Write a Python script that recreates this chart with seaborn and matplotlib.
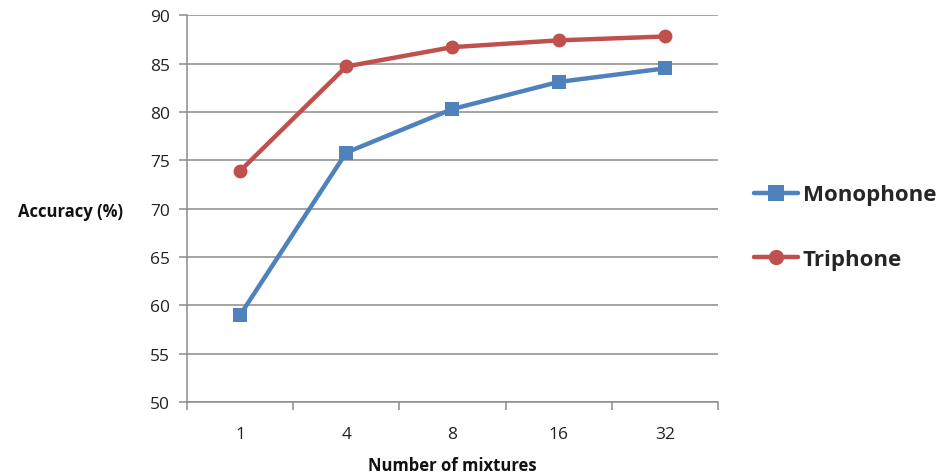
import matplotlib
matplotlib.use("Agg")
import matplotlib.pyplot as plt
import seaborn as sns
import pandas as pd
from matplotlib.ticker import FixedLocator
from matplotlib.lines import Line2D

mixtures = ["1", "4", "8", "16", "32"]
monophone = [59.0, 75.8, 80.3, 83.1, 84.5]
triphone = [73.9, 84.7, 86.7, 87.4, 87.8]
series_names = ["Monophone", "Triphone"]
y_ticks = [50, 55, 60, 65, 70, 75, 80, 85, 90]

sns.set_theme(style="white")
plt.rcParams["font.family"] = ["Open Sans", "DejaVu Sans"]

pos = list(range(len(mixtures)))
df = pd.DataFrame({
    "pos": pos * 2,
    "acc": monophone + triphone,
    "series": [series_names[0]] * len(pos) + [series_names[1]] * len(pos),
})

fig = plt.figure(figsize=(9.47, 4.77), dpi=100)
ax = fig.add_axes([0.1975, 0.155, 0.5605, 0.811])

palette = {"Monophone": "#4F81BD", "Triphone": "#C0504D"}
markers = {"Monophone": "s", "Triphone": "o"}
sns.lineplot(data=df, x="pos", y="acc", hue="series", style="series",
             palette=palette, markers=markers, dashes=False,
             linewidth=3.2, markersize=10, markeredgewidth=0, ax=ax,
             legend=False, zorder=3)

ax.set_xlim(-0.5, len(mixtures) - 0.5)
ax.set_ylim(50, 90)
ax.set_yticks(y_ticks)
ax.set_xticks(pos)
ax.set_xticklabels(mixtures)
ax.xaxis.set_minor_locator(FixedLocator([p - 0.5 for p in pos] + [len(pos) - 0.5]))

ax.grid(axis="y", color="#8c8c8c", linewidth=1.1, zorder=0)
ax.set_axisbelow(True)
for s in ["top", "right"]:
    ax.spines[s].set_visible(False)
for s in ["left", "bottom"]:
    ax.spines[s].set_color("#8c8c8c")
    ax.spines[s].set_linewidth(1.1)

ax.tick_params(axis="y", which="major", left=True, length=6, width=1.1,
               color="#8c8c8c", labelsize=12.5, labelcolor="#222222", pad=6)
ax.tick_params(axis="x", which="major", bottom=False, labelsize=12.5,
               labelcolor="#222222", pad=11)
ax.tick_params(axis="x", which="minor", bottom=True, length=6, width=1.1,
               color="#8c8c8c")

ax.set_xlabel("Number of mixtures", fontsize=12, fontweight="bold",
              color="#111111", va="center")
ax.xaxis.set_label_coords(0.5, -0.163)
ax.set_ylabel("Accuracy (%)", fontsize=12, fontweight="bold",
              color="#111111", rotation=0, ha="center", va="center")
ax.yaxis.set_label_coords(-0.22, 0.495)

handles = [Line2D([], [], color=palette[n], marker=markers[n], linewidth=3.2,
                  markersize=11, markeredgewidth=0) for n in series_names]
fig.legend(handles, series_names, loc="center left",
           bbox_to_anchor=(0.775, 0.522), frameon=False,
           prop={"weight": "bold", "size": 16}, handlelength=2.0,
           handletextpad=0.2, labelspacing=1.95)

fig.savefig("out.png", dpi=100)
